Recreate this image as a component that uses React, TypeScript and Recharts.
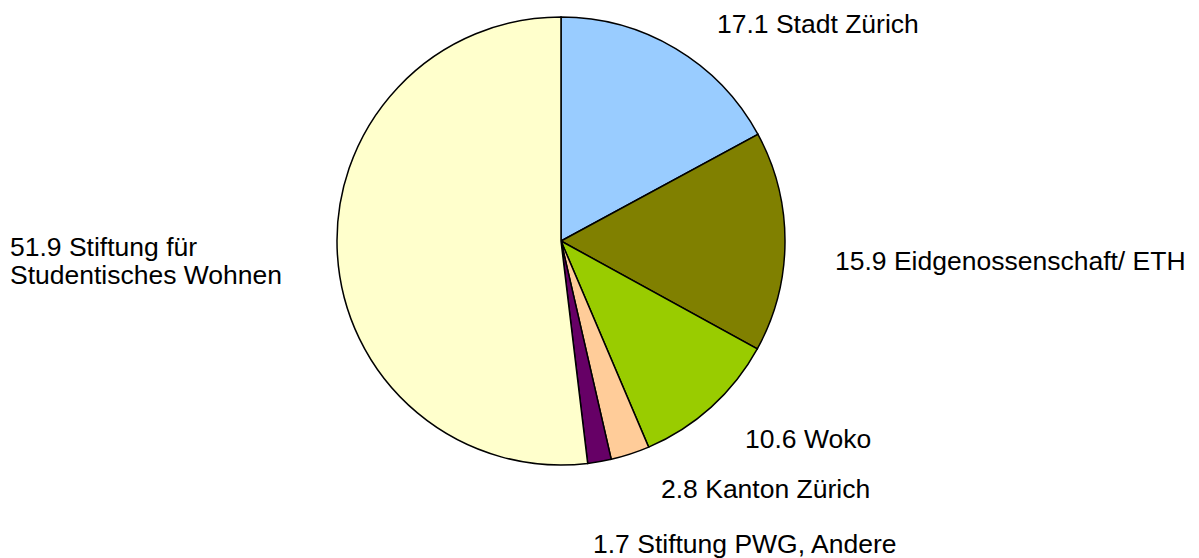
import React from "react";
import { PieChart, Pie, Cell } from "recharts";

const categories = [
  "Stadt Zürich",
  "Eidgenossenschaft/ ETH",
  "Woko",
  "Kanton Zürich",
  "Stiftung PWG, Andere",
  "Stiftung für Studentisches Wohnen",
];
const values = [17.1, 15.9, 10.6, 2.8, 1.7, 51.9];
const labelLines = [
  ["17.1 Stadt Zürich"],
  ["15.9 Eidgenossenschaft/ ETH"],
  ["10.6 Woko"],
  ["2.8 Kanton Zürich"],
  ["1.7 Stiftung PWG, Andere"],
  ["51.9 Stiftung für", "Studentisches Wohnen"],
];
const colors = ["#99CCFF", "#808000", "#99CC00", "#FFCC99", "#660066", "#FFFFCC"];

// label placement relative to pie centre (dx, dy of first baseline)
const labelOffsets = [
  [156, -208],
  [274, 29],
  [184, 207],
  [100, 257],
  [32, 312],
  [-551, 15],
];

const data = categories.map((name, i) => ({ name, value: values[i] }));

const FONT = "'Liberation Sans', Arial, sans-serif";

const renderLabel = (props: any) => {
  const { cx, cy, index } = props;
  const [dx, dy] = labelOffsets[index];
  return (
    <text
      key={`lbl-${index}`}
      x={cx + dx}
      y={cy + dy}
      fill="#000"
      fontSize={26.5}
      fontFamily={FONT}
      textAnchor="start"
    >
      {labelLines[index].map((line, j) => (
        <tspan key={j} x={cx + dx} dy={j === 0 ? 0 : 27.5}>
          {line}
        </tspan>
      ))}
    </text>
  );
};

export default function App() {
  return (
    <div style={{ position: "absolute", left: 0, top: 0, width: 1199, height: 558, background: "#fff" }}>
      <PieChart width={1199} height={558} margin={{ top: 0, right: 0, bottom: 0, left: 0 }}>
        <Pie
          data={data}
          dataKey="value"
          nameKey="name"
          cx={561}
          cy={241}
          outerRadius={224}
          startAngle={90}
          endAngle={-270}
          stroke="#000"
          strokeWidth={1.5}
          label={renderLabel}
          labelLine={false}
          isAnimationActive={false}
        >
          {data.map((d, i) => (
            <Cell key={d.name} fill={colors[i]} />
          ))}
        </Pie>
      </PieChart>
    </div>
  );
}
